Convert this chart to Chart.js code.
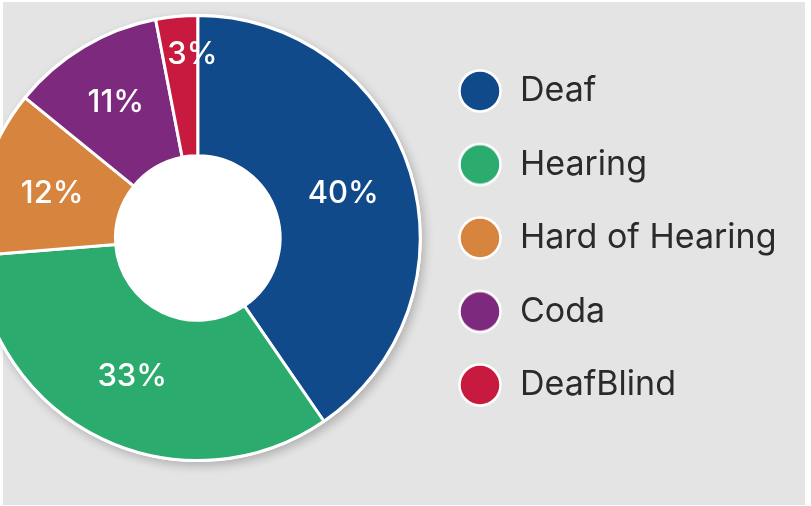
<!DOCTYPE html>
<html>
<head>
<meta charset="utf-8">
<script src="https://cdn.jsdelivr.net/npm/chart.js@4"></script>
<style>
  html, body { margin: 0; padding: 0; background: #fff; overflow: hidden; }
  #wrap { position: relative; width: 811px; height: 506px; overflow: hidden; }
  #panel { position: absolute; left: 3px; top: 2px; width: 802px; height: 503px; background: #e4e4e4; }
  #chart { position: absolute; left: -34px; top: 0; }
</style>
</head>
<body>
<div id="wrap">
  <div id="panel"></div>
  <canvas id="chart" width="845" height="506"></canvas>
</div>
<script>
// --- data ---
const groups = ['Deaf', 'Hearing', 'Hard of Hearing', 'Coda', 'DeafBlind'];
const shares = [40, 33, 12, 11, 3];
const sliceColors = ['#114a8a', '#2bac6e', '#d6843e', '#7d297e', '#c8193f'];

const FONT = "Inter, 'Open Sans', sans-serif";
const LEGEND_SIZE = 34;
const LEGEND_PAD = 39.5;

// legend markers: filled circle with a white ring, nudged left of the box centre
function markerFor(color) {
    const c = document.createElement('canvas');
    c.width = 64; c.height = 46;
    const g = c.getContext('2d');
    g.beginPath();
    g.arc(26, 23, 20.5, 0, Math.PI * 2);
    g.fillStyle = color;
    g.fill();
    g.lineWidth = 2.5;
    g.strokeStyle = '#ffffff';
    g.stroke();
    return c;
}
const markers = sliceColors.map(markerFor);

// size the right padding so the legend text starts where the reference has it
const canvas = document.getElementById('chart');
const mctx = canvas.getContext('2d');
mctx.font = `400 ${LEGEND_SIZE}px ${FONT}`;
const widest = Math.max(...groups.map(t => mctx.measureText(t).width));
const padRight = Math.max(0, canvas.width - (473.5 + LEGEND_PAD + LEGEND_SIZE * 1.5 + widest));

// soft shadow under the ring + white hole
const ringBacking = {
    id: 'ringBacking',
    beforeDatasetsDraw(chart) {
        const arc = chart.getDatasetMeta(0).data[0];
        if (!arc) return;
        const {x, y, outerRadius} = arc.getProps(['x', 'y', 'outerRadius'], true);
        const c = chart.ctx;
        c.save();
        c.shadowColor = 'rgba(0,0,0,0.22)';
        c.shadowBlur = 10;
        c.shadowOffsetX = 3;
        c.shadowOffsetY = 4;
        c.beginPath();
        c.arc(x, y, outerRadius + 1.5, 0, Math.PI * 2);
        c.fillStyle = '#ffffff';
        c.fill();
        c.restore();
    }
};

// percentage labels inside each slice
const sliceLabels = {
    id: 'sliceLabels',
    afterDatasetsDraw(chart) {
        const meta = chart.getDatasetMeta(0);
        const total = shares.reduce((a, b) => a + b, 0);
        const c = chart.ctx;
        c.save();
        c.font = `500 31px ${FONT}`;
        c.fillStyle = '#ffffff';
        c.textAlign = 'center';
        c.textBaseline = 'middle';
        meta.data.forEach((arc, i) => {
            const p = arc.getProps(['x', 'y', 'startAngle', 'endAngle', 'innerRadius', 'outerRadius'], true);
            const frac = shares[i] / total;
            let ang = (p.startAngle + p.endAngle) / 2;
            let r = (p.innerRadius + p.outerRadius) / 2;
            if (frac < 0.05) {
                // tiny slice: label sits near the outer rim, spilling over the edge
                ang = p.startAngle + 0.85 * (p.endAngle - p.startAngle);
                r = p.outerRadius * 0.83;
            } else if (frac < 0.115) {
                r = p.innerRadius * 0.45 + p.outerRadius * 0.55;
            }
            c.fillText(shares[i] + '%', p.x + Math.cos(ang) * r, p.y + Math.sin(ang) * r + 1);
        });
        c.restore();
    }
};

new Chart(canvas, {
    type: 'doughnut',
    data: {
        labels: groups,
        datasets: [{
            data: shares,
            backgroundColor: sliceColors,
            borderColor: '#ffffff',
            borderWidth: 3,
            hoverOffset: 0
        }]
    },
    options: {
        responsive: false,
        animation: false,
        cutout: '37%',
        layout: { padding: { left: 0, right: padRight, top: 14, bottom: 44 } },
        plugins: {
            tooltip: { enabled: false },
            legend: {
                position: 'right',
                align: 'center',
                labels: {
                    usePointStyle: true,
                    padding: LEGEND_PAD,
                    color: '#2a2a2a',
                    font: { family: FONT, size: LEGEND_SIZE, weight: '400' },
                    generateLabels(chart) {
                        const items = Chart.overrides.doughnut.plugins.legend.labels.generateLabels(chart);
                        return items.map((it, i) => Object.assign(it, { pointStyle: markers[i] }));
                    }
                }
            }
        }
    },
    plugins: [ringBacking, sliceLabels]
});
</script>
</body>
</html>
